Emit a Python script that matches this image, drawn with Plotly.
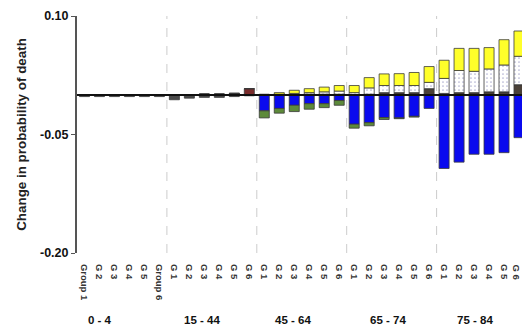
import plotly.graph_objects as go

# ---- data ----
age_groups = ["0 - 4", "15 - 44", "45 - 64", "65 - 74", "75 - 84"]
sub_labels = ["G 1", "G 2", "G 3", "G 4", "G 5", "G 6"]
first_group_labels = ["Group 1", "G 2", "G 3", "G 4", "G 5", "Group 6"]

tick_labels = first_group_labels + sub_labels * 4

# negative components
blue = [0, 0, 0, 0, 0, 0,
        0, 0, 0, 0, 0, 0,
        -0.020, -0.017, -0.013, -0.011, -0.011, -0.007,
        -0.037, -0.035, -0.0285, -0.029, -0.027, -0.017,
        -0.093, -0.085, -0.075, -0.075, -0.073, -0.054]
green = [0, 0, 0, 0, 0, 0,
         0, 0, 0, 0, 0, 0,
         -0.009, -0.006, -0.008, -0.007, -0.005, -0.006,
         -0.005, -0.004, -0.0025, -0.001, -0.001, 0,
         0, 0, 0, 0, 0, 0]
grey_neg = [-0.002, -0.002, -0.002, -0.002, -0.002, -0.002,
            -0.006, -0.004, -0.003, -0.003, -0.002, -0.001,
            0, 0, 0, 0, 0, 0,
            0, 0, 0, 0, 0, 0,
            0, 0, 0, 0, 0, 0]
# positive components
dark_pos = [0, 0, 0, 0, 0, 0,
            0, 0, 0.001, 0.001, 0.002, 0,
            0, 0, 0, 0.001, 0.001, 0.001,
            0, 0.001, 0.003, 0.003, 0.003, 0.008,
            0.002, 0.003, 0.003, 0.004, 0.004, 0.013]
brown_pos = [0, 0, 0, 0, 0, 0,
             0, 0, 0, 0, 0, 0.008,
             0, 0, 0, 0, 0, 0,
             0, 0, 0, 0, 0, 0,
             0, 0, 0, 0, 0, 0]
white_pos = [0, 0, 0, 0, 0, 0,
             0, 0, 0, 0, 0, 0,
             0, 0.001, 0.002, 0.002, 0.003, 0.004,
             0.003, 0.008, 0.009, 0.009, 0.009, 0.008,
             0.019, 0.028, 0.027, 0.029, 0.034, 0.036]
yellow = [0, 0, 0, 0, 0, 0,
          0, 0, 0, 0, 0, 0,
          0.001, 0.002, 0.004, 0.005, 0.006, 0.007,
          0.009, 0.013, 0.0147, 0.015, 0.0165, 0.020,
          0.023, 0.028, 0.029, 0.027, 0.032, 0.032]

group_label_pos = [1.05, 7.85, 13.9, 20.25, 26.05]

x = list(range(len(tick_labels)))
edge = dict(color="#3a3a3a", width=0.8)

fig = go.Figure()
fig.add_bar(x=x, y=grey_neg, marker=dict(color="#4a4a4a", line=edge), name="grey")
fig.add_bar(x=x, y=blue, marker=dict(color="#0a0aee", line=edge), name="blue")
fig.add_bar(x=x, y=green, marker=dict(color="#5d8a3a", line=edge), name="green")
fig.add_bar(x=x, y=dark_pos, marker=dict(color="#4a4038", line=edge), name="dark")
fig.add_bar(x=x, y=brown_pos, marker=dict(color="#7a2c2c", line=edge), name="brown")
fig.add_bar(x=x, y=white_pos,
            marker=dict(color="white", line=edge,
                        pattern=dict(shape=".", fgcolor="#6a6aa8", size=4, solidity=0.15)),
            name="white")
fig.add_bar(x=x, y=yellow, marker=dict(color="#ffff2a", line=edge), name="yellow")

W, H = 522, 326
plot_top, plot_bottom, plot_left = 16, 253, 77  # page pixels
plot_h = plot_bottom - plot_top
tick_font = dict(size=9.5, color="#333", family="Liberation Sans")

shapes = []
for b in [5.5, 11.5, 17.5, 23.5]:
    shapes.append(dict(type="line", xref="x", yref="paper", x0=b, x1=b, y0=0, y1=1,
                       line=dict(color="#cccccc", width=1, dash="dash"), layer="below"))
shapes.append(dict(type="line", xref="paper", yref="y", x0=0, x1=1, y0=0, y1=0,
                   line=dict(color="#111111", width=2), layer="above"))

annotations = []
for lab, pos in zip(age_groups, group_label_pos):
    annotations.append(dict(x=pos, y=(plot_bottom - 320) / plot_h, xref="x", yref="paper",
                            yanchor="middle", text=f"<b>{lab}</b>", showarrow=False,
                            font=dict(size=11.5, color="#111", family="Liberation Sans")))
# last category label sits at the cut-off right edge; draw it as an annotation
annotations.append(dict(x=x[-1], y=(plot_bottom - 262) / plot_h, xref="x", yref="paper",
                        yanchor="top", xanchor="center", textangle=90, xshift=-3,
                        text=f"<b>{tick_labels[-1]}</b>", showarrow=False, font=tick_font))

fig.update_layout(
    barmode="relative",
    bargap=0.33,
    width=W, height=H,
    margin=dict(l=plot_left, r=0, t=plot_top, b=H - plot_bottom, autoexpand=False),
    plot_bgcolor="white", paper_bgcolor="white",
    showlegend=False,
    shapes=shapes,
    annotations=annotations,
    font=dict(family="Liberation Sans", color="#111"),
)
fig.update_xaxes(
    range=[-0.5, 29.2],
    tickmode="array", tickvals=x[:-1], ticktext=[f"<b>{t}</b>" for t in tick_labels[:-1]],
    tickangle=90, tickfont=tick_font,
    showgrid=False, zeroline=False, showline=False,
    ticks="outside", ticklen=8, tickcolor="rgba(0,0,0,0)",
)
fig.update_yaxes(
    range=[-0.20, 0.10],
    tickvals=[0.10, -0.05, -0.20],
    ticktext=["<b>0.10</b>", "<b>-0.05</b>", "<b>-0.20</b>"],
    tickfont=dict(size=12.5, color="#111"),
    showgrid=False, zeroline=False,
    showline=True, linecolor="#555", linewidth=2,
    ticks="outside", ticklen=4, tickcolor="#555",
    title=dict(text="<b>Change in probability of death</b>", font=dict(size=13.4, color="#222"),
               standoff=10),
)

fig.write_html(
    "out.html",
    config={"displayModeBar": False},
    post_script="document.body.style.margin='0';document.body.style.overflow='hidden';"
                "document.documentElement.style.overflow='hidden';",
)
